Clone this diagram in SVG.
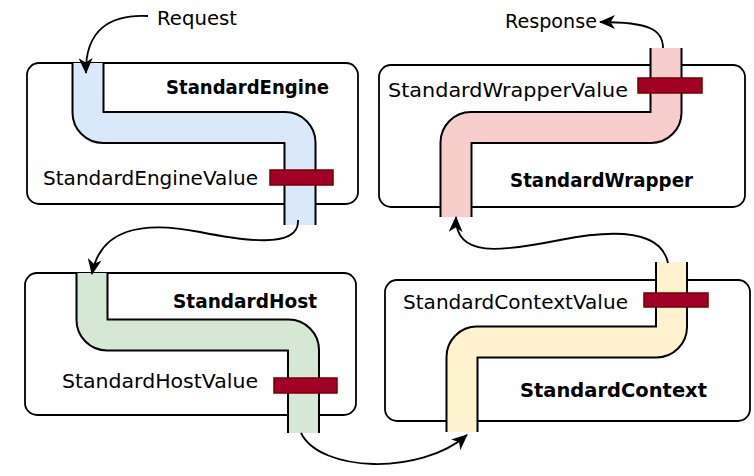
<svg xmlns="http://www.w3.org/2000/svg" width="754" height="476" viewBox="0 0 754 476">
<defs>
<style>
.box{fill:#fff;stroke:#000;stroke-width:1.8}
.pb{fill:none;stroke:#000;stroke-width:33;stroke-linejoin:miter}
.pf{fill:none;stroke-width:29;stroke-linejoin:miter}
.bar{fill:#a20025;stroke:#6f0000;stroke-width:1.5}
.t{font-family:"DejaVu Sans","Noto Sans",sans-serif;font-size:19px;fill:#000}
.b{font-weight:bold}
.c{fill:none;stroke:#000;stroke-width:1.8}
</style>
<marker id="arr" viewBox="0 0 16 14" refX="15" refY="7" markerWidth="16" markerHeight="14" markerUnits="userSpaceOnUse" orient="auto">
<path d="M0,0 L16,7 L0,14 L4.5,7 Z" fill="#000"/>
</marker>
</defs>
<rect width="754" height="476" fill="#fff"/>

<g id="engine">
<rect class="box" x="27" y="63" width="331" height="141" rx="12"/>
<path class="pb" d="M88,63 V112.5 A15,15 0 0 0 103,127.5 H285 A15,15 0 0 1 300,142.5 V225"/>
<path class="pf" stroke="#dae8fc" d="M88,63 V112.5 A15,15 0 0 0 103,127.5 H285 A15,15 0 0 1 300,142.5 V225"/>
<rect class="bar" x="270" y="170" width="63" height="15"/>
<text class="t b" x="166" y="94" textLength="163" lengthAdjust="spacingAndGlyphs">StandardEngine</text>
<text class="t" x="43" y="185" textLength="215" lengthAdjust="spacingAndGlyphs">StandardEngineValue</text>
</g>

<g id="host">
<rect class="box" x="25" y="273" width="331" height="142" rx="12"/>
<path class="pb" d="M92,273 V320 A15,15 0 0 0 107,335 H288.5 A15,15 0 0 1 303.5,350 V433"/>
<path class="pf" stroke="#d5e8d4" d="M92,273 V320 A15,15 0 0 0 107,335 H288.5 A15,15 0 0 1 303.5,350 V433"/>
<rect class="bar" x="274" y="378" width="63" height="15"/>
<text class="t b" x="173" y="308" textLength="144" lengthAdjust="spacingAndGlyphs">StandardHost</text>
<text class="t" x="62" y="388" textLength="196" lengthAdjust="spacingAndGlyphs">StandardHostValue</text>
</g>

<g id="context">
<rect class="box" x="385" y="280" width="365" height="141" rx="12"/>
<path class="pb" d="M671.5,262 V327 A15,15 0 0 1 656.5,342 H477 A15,15 0 0 0 462,357 V432"/>
<path class="pf" stroke="#fff2cc" d="M671.5,262 V327 A15,15 0 0 1 656.5,342 H477 A15,15 0 0 0 462,357 V432"/>
<rect class="bar" x="644" y="293" width="64" height="14"/>
<text class="t" x="403" y="309" textLength="225" lengthAdjust="spacingAndGlyphs">StandardContextValue</text>
<text class="t b" x="520" y="397" textLength="187" lengthAdjust="spacingAndGlyphs">StandardContext</text>
</g>

<g id="wrapper">
<rect class="box" x="379" y="65" width="366" height="142" rx="12"/>
<path class="pb" d="M666,48 V112.5 A15,15 0 0 1 651,127.5 H471 A15,15 0 0 0 456,142.5 V217"/>
<path class="pf" stroke="#f8cecc" d="M666,48 V112.5 A15,15 0 0 1 651,127.5 H471 A15,15 0 0 0 456,142.5 V217"/>
<rect class="bar" x="638" y="78" width="64" height="15"/>
<text class="t" x="388" y="97" textLength="240" lengthAdjust="spacingAndGlyphs">StandardWrapperValue</text>
<text class="t b" x="510" y="187" textLength="183" lengthAdjust="spacingAndGlyphs">StandardWrapper</text>
</g>

<g id="request">
<text class="t" x="157" y="25" textLength="80" lengthAdjust="spacingAndGlyphs">Request</text>
</g>
<g id="response">
<text class="t" x="505" y="28" textLength="92" lengthAdjust="spacingAndGlyphs">Response</text>
</g>

<g id="connectors">
<path class="c" marker-end="url(#arr)" d="M148,16 C110,14 85,30 86,73"/>
<path class="c" marker-end="url(#arr)" d="M298,220 C300,250 240,240 200,232 C140,220 100,230 92,274"/>
<path class="c" marker-end="url(#arr)" d="M301,433 C320,472 420,476 467,435"/>
<path class="c" marker-end="url(#arr)" d="M668,263 C660,225 600,232 560,240 C500,252 455,258 456,217"/>
<path class="c" marker-end="url(#arr)" d="M663,48 C663,30 650,22 600,22"/>
</g>
</svg>
